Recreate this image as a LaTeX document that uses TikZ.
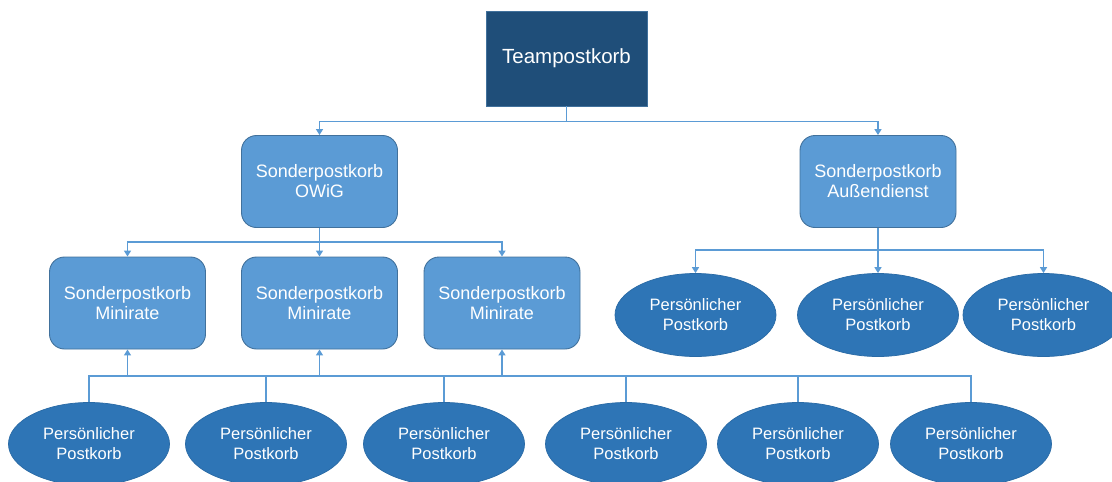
\documentclass[tikz,border=0pt]{standalone}
\usepackage{fontspec}
\setmainfont{Liberation Sans}
\usetikzlibrary{arrows.meta,shapes.geometric}
\definecolor{topblue}{HTML}{1F4E79}
\definecolor{boxblue}{HTML}{5B9BD5}
\definecolor{boxedge}{HTML}{41719C}
\definecolor{ellblue}{HTML}{2E75B6}
\definecolor{elledge}{HTML}{2A6BA6}
\definecolor{linkblue}{HTML}{5B9BD5}
\tikzset{
  headbox/.style={rectangle, fill=topblue, draw=boxedge, line width=0.75pt,
    minimum width=161pt, minimum height=95pt, text=white,
    font=\fontsize{20.5}{22}\selectfont, align=center},
  subbox/.style={rectangle, rounded corners=15pt, fill=boxblue, draw=boxedge,
    line width=0.9pt, minimum width=156pt, minimum height=92pt, text=white,
    font=\fontsize{18}{20}\selectfont, align=center, inner sep=2pt},
  person/.style={ellipse, fill=ellblue, draw=elledge, line width=0.75pt,
    minimum width=161pt, minimum height=83pt, text=white, inner sep=0pt,
    font=\fontsize{16.5}{20}\selectfont, align=center},
  link/.style={draw=linkblue, line width=1.5pt},
  arrowlink/.style={link, -{Triangle[length=6pt,width=7pt]}},
}
\begin{document}
\begin{tikzpicture}[x=1pt,y=-1pt]
  \useasboundingbox (0,0) rectangle (1112,482);
  \clip (0,0) rectangle (1112,482);

  % top level
  \node[headbox] (team) at (566.5,58.5) {Teampostkorb};

  % second level
  \node[subbox] (owig) at (319.5,181.5) {Sonderpostkorb\\OWiG};
  \node[subbox] (aussen) at (878,181.5) {Sonderpostkorb\\Außendienst};

  % Minirate boxes
  \node[subbox] (mini1) at (127.5,303) {Sonderpostkorb\\Minirate};
  \node[subbox] (mini2) at (319.5,303) {Sonderpostkorb\\Minirate};
  \node[subbox] (mini3) at (502,303) {Sonderpostkorb\\Minirate};

  % personal mailboxes of the field service
  \node[person] (ra) at (695.5,315) {Persönlicher\\Postkorb};
  \node[person] (rb) at (878,315) {Persönlicher\\Postkorb};
  \node[person] (rc) at (1043.5,315) {Persönlicher\\Postkorb};

  % personal mailboxes below the Minirate boxes
  \node[person] (p1) at (89,444) {Persönlicher\\Postkorb};
  \node[person] (p2) at (266,444) {Persönlicher\\Postkorb};
  \node[person] (p3) at (444,444) {Persönlicher\\Postkorb};
  \node[person] (p4) at (626,444) {Persönlicher\\Postkorb};
  \node[person] (p5) at (798,444) {Persönlicher\\Postkorb};
  \node[person] (p6) at (971,444) {Persönlicher\\Postkorb};

  % connectors from the team mailbox
  \draw[arrowlink] (team.south) -- ++(0,15) -| (owig.north);
  \draw[arrowlink] (team.south) -- ++(0,15) -| (aussen.north);

  % connectors from OWiG
  \draw[arrowlink] (owig.south) -- ++(0,14) -| (mini1.north);
  \draw[arrowlink] (owig.south) -- (mini2.north);
  \draw[arrowlink] (owig.south) -- ++(0,14) -| (mini3.north);

  % connectors from Außendienst
  \draw[arrowlink] (aussen.south) -- ++(0,22) -| (ra.north);
  \draw[arrowlink] (aussen.south) -- (rb.north);
  \draw[arrowlink] (aussen.south) -- ++(0,22) -| (rc.north);

  % shared bus below the Minirate boxes
  \coordinate (bus) at (0,376);
  \draw[link] (p1.north) |- (bus -| p6.north) -- (p6.north);
  \draw[link] (p2.north) -- (p2.north |- bus);
  \draw[link] (p3.north) -- (p3.north |- bus);
  \draw[link] (p4.north) -- (p4.north |- bus);
  \draw[link] (p5.north) -- (p5.north |- bus);
  \draw[arrowlink] (mini1.south |- bus) -- (mini1.south);
  \draw[arrowlink] (mini2.south |- bus) -- (mini2.south);
  \draw[arrowlink] (mini3.south |- bus) -- (mini3.south);
\end{tikzpicture}
\end{document}
